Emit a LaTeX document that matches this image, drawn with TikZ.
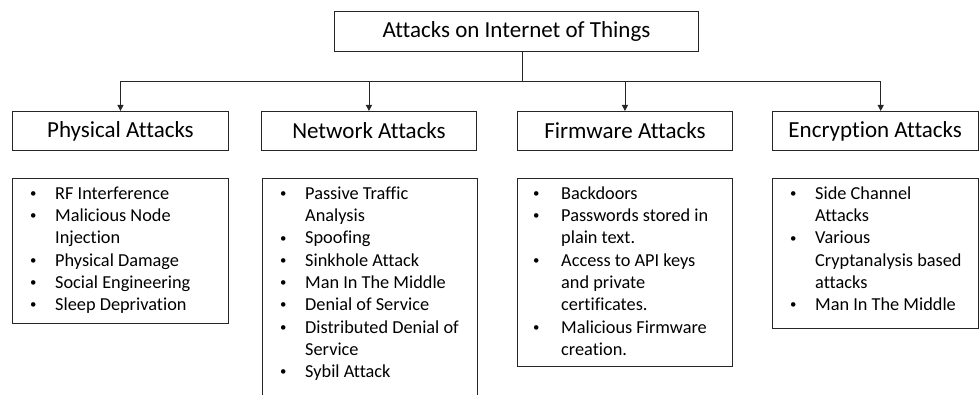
\documentclass[tikz,border=0pt]{standalone}
\usepackage{fontspec}
\setmainfont{Carlito}[Ligatures=NoCommon]
\usetikzlibrary{arrows.meta,calc}
\newcommand{\bul}{\raisebox{1.8pt}{\scalebox{0.7}{•}}}
\newcommand{\itm}[1]{\makebox[25pt][l]{\bul}#1}
\newcommand{\cnt}[1]{\hspace*{25pt}#1}
\begin{document}
\begin{tikzpicture}[x=1pt,y=-1pt,
  box/.style={draw=black!85,line width=0.9pt,inner sep=0pt,anchor=north west},
  head/.style={box,font=\fontsize{23}{27}\selectfont},
  listtext/.style={anchor=north west,inner sep=0pt,align=left,
    font=\fontsize{18.3}{22.3}\selectfont},
  conn/.style={draw=black!85,line width=0.9pt},
  arr/.style={conn,-{Triangle[length=6pt,width=6pt]}}]
\useasboundingbox (0,0) rectangle (979,395);
\clip (0,0) rectangle (979,395);
% top
\node[head,minimum width=364pt,minimum height=40pt] (top) at (334,11) {Attacks on Internet of Things};
% level 2
\node[head,minimum width=216pt,minimum height=39pt] (phys) at (12,111) {Physical Attacks};
\node[head,minimum width=215pt,minimum height=39pt] (net) at (261,111) {Network Attacks};
\node[head,minimum width=215pt,minimum height=39pt] (firm) at (517,111) {Firmware Attacks};
\node[head,minimum width=205.5pt,minimum height=39pt] (enc) at (772,111) {Encryption Attacks};
% connectors
\coordinate (bus) at ($(top.south)+(6,30)$);
\draw[conn] ([xshift=6pt]top.south) -- (bus);
\draw[arr] (bus) -| (phys.north);
\draw[arr] (bus) -| (net.north);
\draw[arr] (bus) -| (firm.north);
\draw[arr] (bus) -| ([xshift=5.5pt]enc.north);
% level 3 boxes
\node[box,minimum width=216pt,minimum height=145pt] (physl) at (12,178) {};
\node[box,minimum width=215pt,minimum height=240pt] (netl) at (262,178) {};
\node[box,minimum width=215pt,minimum height=188pt] (firml) at (517,178) {};
\node[box,minimum width=205.5pt,minimum height=150pt] (encl) at (772,178) {};
% lists
\node[listtext] (physt) at ($(physl.north west)+(18,6)$) {%
\rule{0pt}{15pt}\itm{RF Interference}\\
\itm{Malicious Node}\\
\cnt{Injection}\\
\itm{Physical Damage}\\
\itm{Social Engineering}\\
\itm{Sleep Deprivation}};
\node[listtext] (nett) at ($(netl.north west)+(18,6)$) {%
\rule{0pt}{15pt}\itm{Passive Traffic}\\
\cnt{Analysis}\\
\itm{Spoofing}\\
\itm{Sinkhole Attack}\\
\itm{Man In The Middle}\\
\itm{Denial of Service}\\
\itm{Distributed Denial of}\\
\cnt{Service}\\
\itm{Sybil Attack}};
\node[listtext] (firmt) at ($(firml.north west)+(16,6)$) {%
\rule{0pt}{15pt}\makebox[28pt][l]{\bul}Backdoors\\
\makebox[28pt][l]{\bul}Passwords stored in\\
\hspace*{28pt}plain text.\\
\makebox[28pt][l]{\bul}Access to API keys\\
\hspace*{28pt}and private\\
\hspace*{28pt}certificates.\\
\makebox[28pt][l]{\bul}Malicious Firmware\\
\hspace*{28pt}creation.};
\node[listtext] (enct) at ($(encl.north west)+(18,6)$) {%
\rule{0pt}{15pt}\itm{Side Channel}\\
\cnt{Attacks}\\
\itm{Various}\\
\cnt{Cryptanalysis based}\\
\cnt{attacks}\\
\itm{Man In The Middle}};
\end{tikzpicture}
\end{document}
